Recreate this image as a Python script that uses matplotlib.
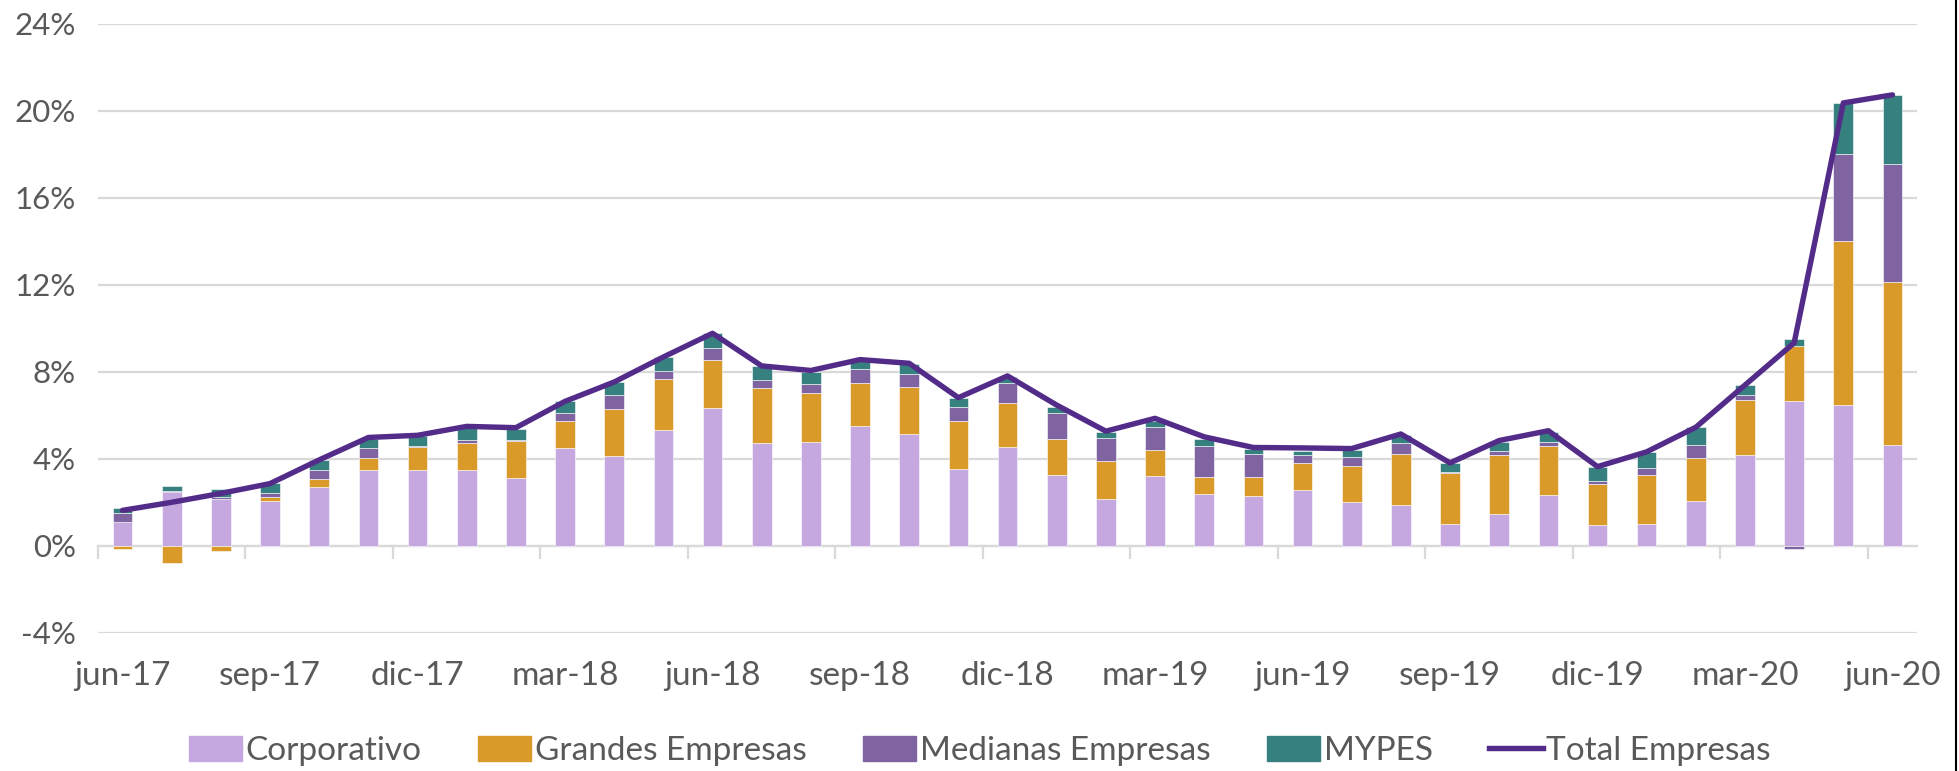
import numpy as np
import matplotlib
matplotlib.use("Agg")
from matplotlib import pyplot as plt
from matplotlib.lines import Line2D
from matplotlib.patches import Patch

plt.rcParams['font.family'] = ['Lato', 'DejaVu Sans']

# data (% growth)
months = ['jun-17', 'jul-17', 'ago-17', 'sep-17', 'oct-17', 'nov-17', 'dic-17',
          'ene-18', 'feb-18', 'mar-18', 'abr-18', 'may-18', 'jun-18', 'jul-18',
          'ago-18', 'sep-18', 'oct-18', 'nov-18', 'dic-18', 'ene-19', 'feb-19',
          'mar-19', 'abr-19', 'may-19', 'jun-19', 'jul-19', 'ago-19', 'sep-19',
          'oct-19', 'nov-19', 'dic-19', 'ene-20', 'feb-20', 'mar-20', 'abr-20',
          'may-20', 'jun-20']
corporativo = [1.07, 2.48, 2.14, 2.05, 2.71, 3.49, 3.49, 3.49, 3.10, 4.48, 4.13, 5.32,
               6.32, 4.72, 4.78, 5.48, 5.11, 3.51, 4.54, 3.25, 2.12, 3.18, 2.35, 2.28,
               2.57, 1.99, 1.85, 0.97, 1.44, 2.34, 0.94, 0.99, 2.03, 4.17, 6.65, 6.45, 4.62]
grandes = [-0.14, -0.78, -0.27, 0.18, 0.33, 0.53, 1.03, 1.21, 1.70, 1.25, 2.16, 2.36,
           2.23, 2.51, 2.23, 2.00, 2.18, 2.22, 2.00, 1.66, 1.78, 1.23, 0.82, 0.86,
           1.23, 1.68, 2.38, 2.38, 2.73, 2.26, 1.89, 2.26, 2.01, 2.53, 2.51, 7.56, 7.52]
medianas = [0.45, 0.05, 0.10, 0.20, 0.45, 0.45, 0.05, 0.16, 0.06, 0.35, 0.62, 0.33,
            0.55, 0.37, 0.43, 0.63, 0.60, 0.63, 0.95, 1.20, 1.06, 1.02, 1.43, 1.08,
            0.37, 0.39, 0.47, 0.04, 0.18, 0.16, 0.12, 0.31, 0.60, 0.21, -0.16, 3.98, 5.40]
mypes = [0.23, 0.23, 0.37, 0.45, 0.45, 0.43, 0.45, 0.55, 0.51, 0.55, 0.62, 0.66,
         0.66, 0.66, 0.54, 0.40, 0.45, 0.42, 0.25, 0.28, 0.26, 0.32, 0.32, 0.20,
         0.20, 0.33, 0.37, 0.39, 0.41, 0.47, 0.64, 0.76, 0.80, 0.47, 0.33, 2.36, 3.18]
total = [1.62, 1.99, 2.40, 2.85, 3.94, 4.97, 5.07, 5.48, 5.42, 6.63, 7.52, 8.67,
         9.76, 8.26, 8.05, 8.55, 8.38, 6.80, 7.80, 6.46, 5.26, 5.85, 5.00, 4.51,
         4.49, 4.46, 5.13, 3.80, 4.83, 5.28, 3.63, 4.31, 5.44, 7.38, 9.32, 20.35, 20.72]

series = [('Corporativo', corporativo, '#C5A8E0'),
          ('Grandes Empresas', grandes, '#DA9A2A'),
          ('Medianas Empresas', medianas, '#8064A2'),
          ('MYPES', mypes, '#378080')]

txt = '#595959'
grid = '#D9D9D9'

fig = plt.figure(figsize=(19.59, 7.71), dpi=100)
ax = fig.add_axes([0.050, 0.1795, 0.9286, 0.79])

x = np.arange(len(months))
pos_base = np.zeros(len(months))
neg_base = np.zeros(len(months))
for name, vals, col in series:
    v = np.array(vals)
    base = np.where(v >= 0, pos_base, neg_base)
    ax.bar(x, v, 0.4, bottom=base, color=col, edgecolor='white', linewidth=0.4, zorder=2)
    pos_base += np.where(v >= 0, v, 0)
    neg_base += np.where(v < 0, v, 0)

ax.plot(x, total, color='#532C8A', lw=3.9, solid_capstyle='round', zorder=3)

ax.set_xlim(-0.5, len(months) - 0.5)
ax.set_ylim(-4, 24)
ax.set_yticks(np.arange(-4, 25, 4))
ax.set_yticklabels([f'{v}%' for v in range(-4, 25, 4)])
ax.yaxis.grid(True, color=grid, lw=1.6, zorder=0)
ax.set_axisbelow(True)

for s in ['top', 'right', 'left']:
    ax.spines[s].set_visible(False)
ax.spines['bottom'].set_position(('data', 0))
ax.spines['bottom'].set_color(grid)
ax.spines['bottom'].set_linewidth(1.6)
ax.spines['bottom'].set_zorder(1)

ax.set_xticks(x[::3])
ax.set_xticklabels(months[::3])
ax.set_xticks(np.arange(-0.5, len(months), 3), minor=True)
ax.tick_params(axis='x', which='major', length=0, pad=83, labelsize=24, labelcolor=txt)
ax.tick_params(axis='x', which='minor', length=9, width=1.6, color=grid, direction='out')
ax.tick_params(axis='y', length=0, pad=16, labelsize=22.5, labelcolor=txt)

handles = [Patch(color=c, label=n) for n, _, c in series]
handles.append(Line2D([], [], color='#532C8A', lw=3.9, label='Total Empresas'))
fig.legend(handles=handles, loc='center', bbox_to_anchor=(0.5, 0.026), ncol=5,
           frameon=False, fontsize=24, labelcolor=txt, handlelength=1.6,
           handleheight=0.75, handletextpad=0.1, columnspacing=1.7)

# right border line of the original picture
fig.add_artist(Line2D([0.9985, 0.9985], [0, 1], transform=fig.transFigure, color='black', lw=1.5))

fig.savefig('out.png', dpi=100)
